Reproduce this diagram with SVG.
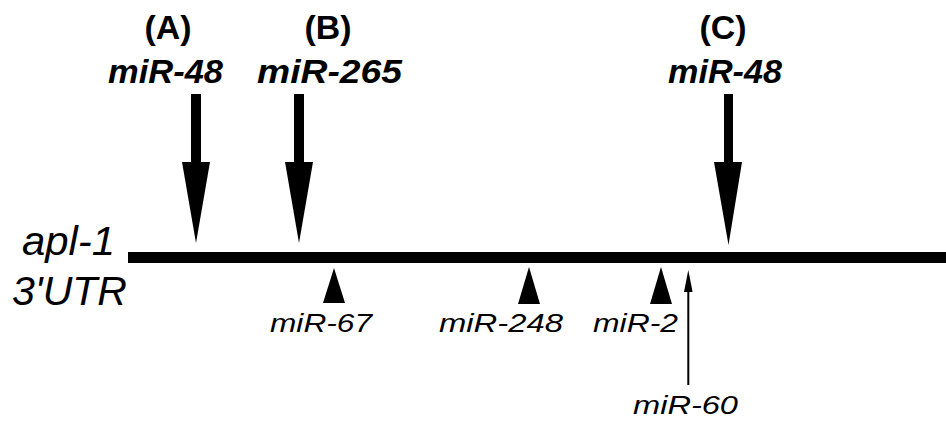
<svg xmlns="http://www.w3.org/2000/svg" width="946" height="423" viewBox="0 0 946 423">
<style>
.hd{font-family:"Liberation Sans",Arial,sans-serif;font-weight:bold;font-size:33px;fill:#000;text-anchor:middle}
.mb{font-family:"Liberation Sans",Arial,sans-serif;font-weight:bold;font-style:italic;font-size:33px;fill:#000}
.ms{font-family:"Liberation Sans",Arial,sans-serif;font-style:italic;font-size:26px;fill:#000}
.gn{font-family:"Liberation Sans",Arial,sans-serif;font-style:italic;font-size:41px;fill:#000}
</style>
<rect width="946" height="423" fill="#fff"/>
<g id="utr">
<rect x="128" y="252" width="818" height="11" fill="#000"/>
<text class="gn" x="22" y="255" textLength="93" lengthAdjust="spacingAndGlyphs">apl-1</text>
<text class="gn" x="12" y="305" textLength="115" lengthAdjust="spacingAndGlyphs">3'UTR</text>
</g>
<g id="siteA">
<text class="hd" x="168" y="39" textLength="47" lengthAdjust="spacingAndGlyphs">(A)</text>
<text class="mb" x="108" y="83" textLength="115" lengthAdjust="spacingAndGlyphs">miR-48</text>
</g>
<g id="siteB">
<text class="hd" x="328" y="39" textLength="47" lengthAdjust="spacingAndGlyphs">(B)</text>
<text class="mb" x="257" y="83" textLength="145" lengthAdjust="spacingAndGlyphs">miR-265</text>
</g>
<g id="siteC">
<text class="hd" x="723" y="39" textLength="47" lengthAdjust="spacingAndGlyphs">(C)</text>
<text class="mb" x="668" y="83" textLength="114" lengthAdjust="spacingAndGlyphs">miR-48</text>
</g>
<g id="mir67">
<polygon points="323,303 345,303 334,268" fill="#000"/>
<text class="ms" x="270" y="332" textLength="102" lengthAdjust="spacingAndGlyphs">miR-67</text>
</g>
<g id="mir248">
<polygon points="518,304 540,304 529,267" fill="#000"/>
<text class="ms" x="439" y="332" textLength="124" lengthAdjust="spacingAndGlyphs">miR-248</text>
</g>
<g id="mir2">
<polygon points="650,304 672,304 661,267" fill="#000"/>
<text class="ms" x="593" y="332" textLength="85" lengthAdjust="spacingAndGlyphs">miR-2</text>
</g>
<g id="mir60">
<text class="ms" x="633" y="414" textLength="105" lengthAdjust="spacingAndGlyphs">miR-60</text>
</g>
<g id="connectors">
<rect x="191" y="94" width="10" height="69" fill="#000"/>
<polygon points="182,162 210,162 196,243" fill="#000"/>
<rect x="294" y="94" width="10" height="69" fill="#000"/>
<polygon points="285,162 313,162 299,243" fill="#000"/>
<rect x="724" y="94" width="9" height="69" fill="#000"/>
<polygon points="714,162 742,162 728.5,245" fill="#000"/>
<line x1="688.3" y1="290" x2="688.3" y2="385" stroke="#000" stroke-width="2"/>
<polygon points="684,292 692.6,292 688.3,270" fill="#000"/>
</g>
</svg>
